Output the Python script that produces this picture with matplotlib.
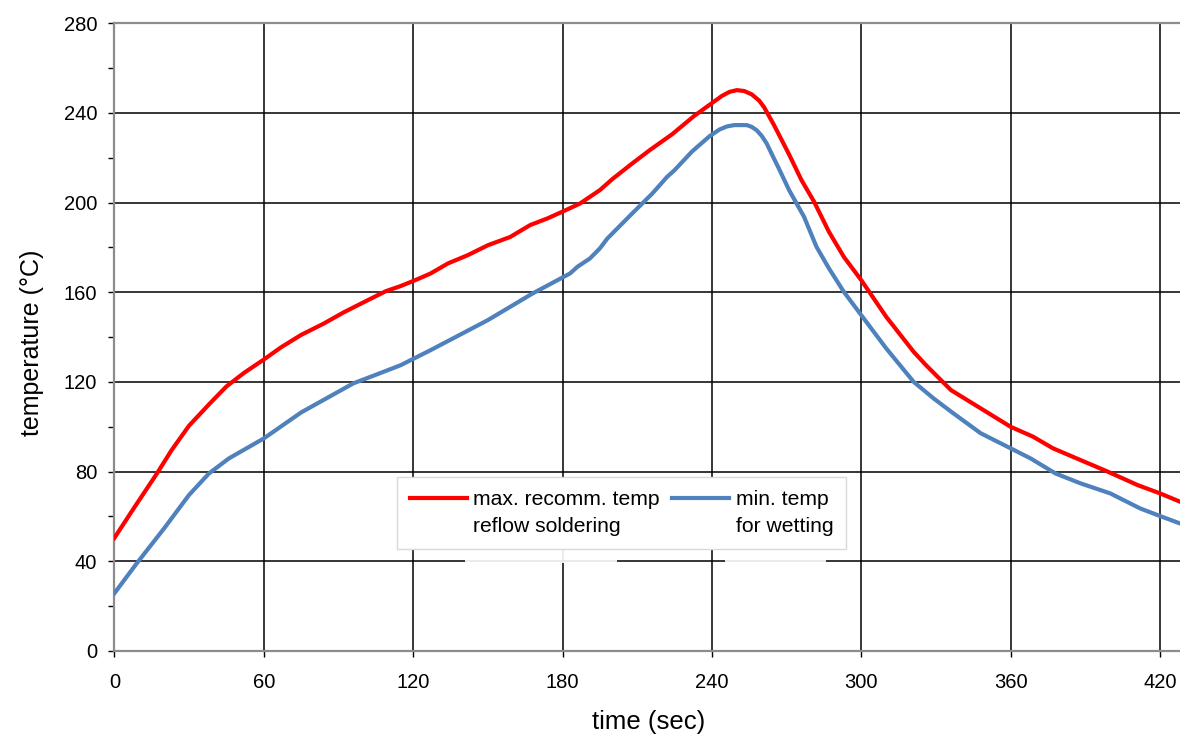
import matplotlib
matplotlib.use("Agg")
import matplotlib.pyplot as plt
from matplotlib.patches import Rectangle
from matplotlib.ticker import MultipleLocator

plt.rcParams['font.family'] = ['Liberation Sans', 'DejaVu Sans']

# max. recommended reflow soldering temperature (red)
max_time = [0, 8, 17, 23, 30, 38, 45, 52, 60, 67, 75, 84, 92, 100, 109, 115,
            121, 127, 134, 142, 150, 159, 167, 174, 181, 187, 195, 200, 208,
            215, 224, 233, 239, 244, 247, 250, 253, 256, 259, 261, 265, 271,
            276, 281, 287, 293, 300, 310, 321, 326, 336, 348, 360, 369, 377,
            388, 399, 411, 420, 428]
max_temp = [50.4, 64.0, 79.0, 89.6, 100.5, 110.0, 118.0, 124.0, 130.0, 135.5,
            141.0, 146.0, 151.0, 155.5, 160.5, 162.8, 165.5, 168.4, 172.9,
            176.6, 181.0, 184.7, 190.0, 193.0, 196.5, 199.6, 205.6, 210.5,
            217.5, 223.4, 230.5, 238.8, 243.6, 247.6, 249.4, 250.2, 249.8,
            248.3, 245.5, 242.5, 234.5, 221.5, 210.0, 200.5, 187.0, 175.8,
            165.4, 149.1, 133.5, 127.5, 116.4, 108.2, 100.0, 95.6, 90.4, 85.2,
            80.0, 74.0, 70.3, 66.6]

# min. temperature for wetting (blue)
min_time = [0, 9, 20, 30, 38, 46, 60, 75, 96, 105, 115, 127, 138, 150, 168,
            183, 186, 191, 195, 198, 208, 216, 222, 225, 232, 239, 243, 246,
            249, 254, 256, 258, 260, 262, 265, 267, 271, 277, 282, 287, 293,
            300, 310, 321, 329, 337, 348, 360, 368, 378, 388, 400, 412, 420,
            428]
min_temp = [25.7, 39.1, 54.7, 69.6, 79.2, 85.9, 94.8, 106.4, 119.4, 123.2,
            127.5, 134.2, 140.6, 147.6, 159.5, 168.4, 171.4, 175.1, 179.6,
            184.0, 195.2, 204.0, 211.5, 214.5, 222.8, 229.6, 232.6, 234.0,
            234.6, 234.6, 233.8, 232.3, 229.8, 226.4, 219.5, 215.0, 205.6,
            193.7, 180.3, 170.7, 160.2, 149.8, 135.0, 120.1, 112.7, 106.0,
            97.1, 90.4, 85.9, 79.2, 74.8, 70.3, 63.6, 60.2, 56.9]

max_label = "max. recomm. temp\nreflow soldering"
min_label = "min. temp\nfor wetting"

fig = plt.figure(figsize=(11.8, 7.36), dpi=100)
ax = fig.add_axes([0.0969, 0.1155, 0.9031, 0.8528])

ax.plot(max_time, max_temp, color='#ff0000', lw=3.0, label=max_label, zorder=3)
ax.plot(min_time, min_temp, color='#4f81bd', lw=3.0, label=min_label, zorder=3)

ax.set_xlim(0, 428)
ax.set_ylim(0, 280)
ax.xaxis.set_major_locator(MultipleLocator(60))
ax.yaxis.set_major_locator(MultipleLocator(40))
ax.yaxis.set_minor_locator(MultipleLocator(20))
ax.grid(True, which='major', color='black', lw=1.1)
ax.set_axisbelow(True)

ax.tick_params(axis='both', which='major', direction='out', length=4.3,
               width=1.0, labelsize=14.5, colors='black')
ax.tick_params(axis='x', pad=11.5)
ax.tick_params(axis='y', pad=8)
ax.tick_params(axis='y', which='minor', direction='out', length=4.3, width=1.0)

for side in ['left', 'bottom', 'top']:
    ax.spines[side].set_color('#8c8c8c')
    ax.spines[side].set_linewidth(1.6)
ax.spines['right'].set_visible(False)

ax.set_xlabel('time (sec)', fontsize=18.5)
ax.xaxis.set_label_coords(0.5017, -0.1126)
ax.xaxis.label.set_va('center')
ax.set_ylabel('temperature (°C)', fontsize=18)
ax.yaxis.set_label_coords(-0.0772, 0.4915)
ax.yaxis.label.set_va('center')

leg = ax.legend(loc='upper left', bbox_to_anchor=(0.2653, 0.2772), ncol=2,
                fontsize=15.2, frameon=True, fancybox=False, framealpha=1,
                edgecolor='#d9d9d9', handlelength=2.7, handletextpad=0.3,
                columnspacing=0.6, borderpad=0.6, borderaxespad=0)
leg.get_frame().set_linewidth(1.0)
for t in leg.get_texts():
    t.set_linespacing(1.55)
# put the legend line next to the first text line
for h in leg.legend_handles:
    h.set_ydata([y + 11 for y in h.get_ydata()])

# faint white strips under the legend, as in the original
for x0, w in [(0.329, 0.1427), (0.573, 0.0948)]:
    ax.add_patch(Rectangle((x0, 0.1407), w, 0.0218, transform=ax.transAxes,
                           facecolor='white', edgecolor='none', alpha=0.9,
                           zorder=2.5))

fig.savefig('out.png', dpi=100)
